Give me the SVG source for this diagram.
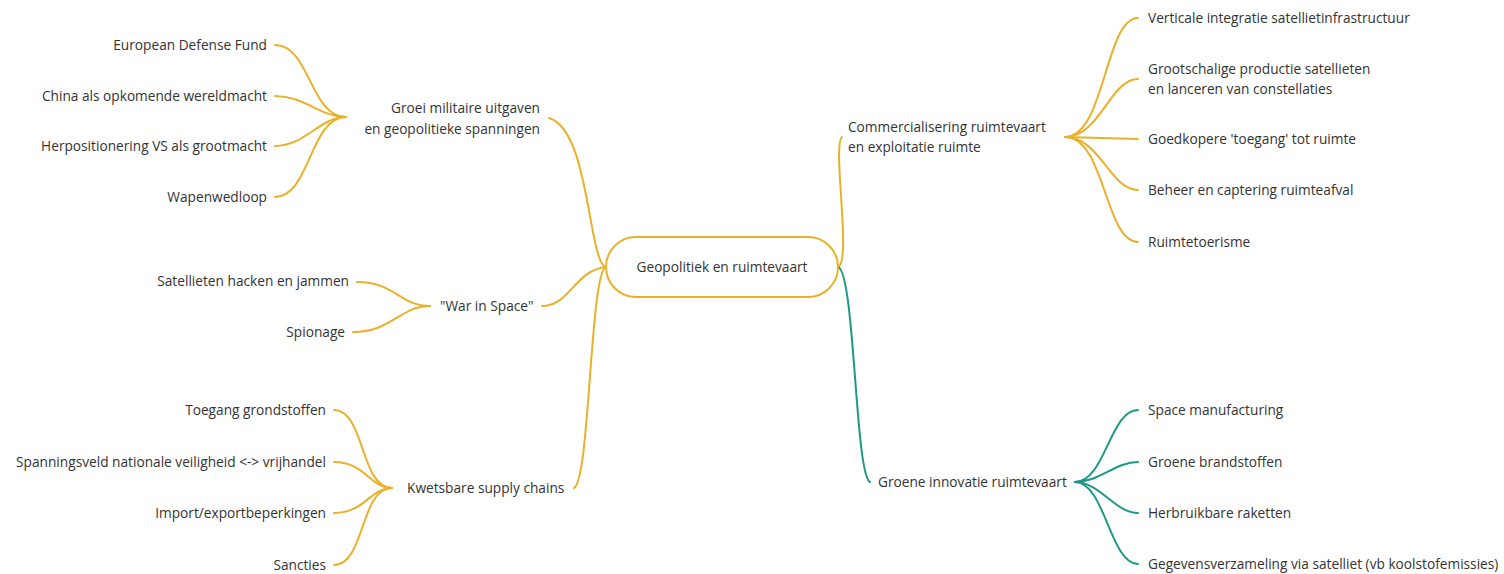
<svg xmlns="http://www.w3.org/2000/svg" width="1504" height="574" viewBox="0 0 1504 574">
<style>
text{font-family:"Open Sans","Noto Sans","Liberation Sans",sans-serif;font-size:13.7px;fill:#333}
.e{text-anchor:end}
.m{text-anchor:middle}
.y{fill:none;stroke:#E9B12A;stroke-width:2;stroke-linecap:round}
.g{fill:none;stroke:#1E9986;stroke-width:2;stroke-linecap:round}
</style>
<rect width="1504" height="574" fill="#fff"/>
<g id="connectors">
<path class="y" d="M606 267 C588 262 590 130 549 118"/>
<path class="y" d="M606 267 C575 270 570 306 542 306"/>
<path class="y" d="M606 267 C590 272 590 480 574 488"/>
<path class="y" d="M838 267 C852 262 832 145 842 137"/>
<path class="g" d="M838 267 C855 272 855 475 870 482"/>
<path class="y" d="M275 45 C310 45 310 117 346 117"/>
<path class="y" d="M275 96 C305 96 320 117 346 117"/>
<path class="y" d="M275 146 C305 146 320 117 346 117"/>
<path class="y" d="M275 197 C310 197 310 117 346 117"/>
<path class="y" d="M357 282 C395 282 400 306 430 306"/>
<path class="y" d="M353 332 C392 332 400 306 430 306"/>
<path class="y" d="M334 410 C365 410 360 488 392 488"/>
<path class="y" d="M334 462 C365 462 370 488 392 488"/>
<path class="y" d="M334 513 C365 513 370 488 392 488"/>
<path class="y" d="M334 565 C365 565 360 488 392 488"/>
<path class="y" d="M1065 137 C1105 137 1105 18 1138 18"/>
<path class="y" d="M1065 137 C1100 137 1110 79 1138 79"/>
<path class="y" d="M1065 137 L1138 139"/>
<path class="y" d="M1065 137 C1100 137 1110 190 1138 190"/>
<path class="y" d="M1065 137 C1105 137 1105 242 1138 242"/>
<path class="g" d="M1075 482 C1105 482 1110 410 1138 410"/>
<path class="g" d="M1075 482 C1100 482 1115 462 1138 462"/>
<path class="g" d="M1075 482 C1100 482 1115 513 1138 513"/>
<path class="g" d="M1075 482 C1105 482 1110 564 1138 564"/>
</g>
<g id="center">
<rect x="606" y="237" width="232" height="60" rx="30" fill="#fff" stroke="#E9B12A" stroke-width="2"/>
<text class="m" x="722" y="272">Geopolitiek en ruimtevaart</text>
</g>
<g id="groei">
<text class="e" x="540" y="113">Groei militaire uitgaven</text>
<text class="e" x="540" y="134">en geopolitieke spanningen</text>
</g>
<g id="edf"><text class="e" x="267" y="50">European Defense Fund</text></g>
<g id="china"><text class="e" x="267" y="101">China als opkomende wereldmacht</text></g>
<g id="vs"><text class="e" x="267" y="151">Herpositionering VS als grootmacht</text></g>
<g id="wapen"><text class="e" x="267" y="202">Wapenwedloop</text></g>
<g id="war"><text x="440" y="311">"War in Space"</text></g>
<g id="hack"><text class="e" x="349" y="286">Satellieten hacken en jammen</text></g>
<g id="spion"><text class="e" x="345" y="337">Spionage</text></g>
<g id="kwets"><text x="407" y="493">Kwetsbare supply chains</text></g>
<g id="toegang"><text class="e" x="326" y="415">Toegang grondstoffen</text></g>
<g id="spanning"><text class="e" x="326" y="467">Spanningsveld nationale veiligheid &lt;-&gt; vrijhandel</text></g>
<g id="import"><text class="e" x="326" y="518">Import/exportbeperkingen</text></g>
<g id="sancties"><text class="e" x="326" y="570">Sancties</text></g>
<g id="commerc">
<text x="848" y="132">Commercialisering ruimtevaart</text>
<text x="848" y="152">en exploitatie ruimte</text>
</g>
<g id="vert"><text x="1148" y="23">Verticale integratie satellietinfrastructuur</text></g>
<g id="groot">
<text x="1148" y="74">Grootschalige productie satellieten</text>
<text x="1148" y="94">en lanceren van constellaties</text>
</g>
<g id="goedk"><text x="1148" y="144">Goedkopere 'toegang' tot ruimte</text></g>
<g id="beheer"><text x="1148" y="195">Beheer en captering ruimteafval</text></g>
<g id="toer"><text x="1148" y="247">Ruimtetoerisme</text></g>
<g id="groene"><text x="878" y="487">Groene innovatie ruimtevaart</text></g>
<g id="spacem"><text x="1148" y="415">Space manufacturing</text></g>
<g id="brand"><text x="1148" y="467">Groene brandstoffen</text></g>
<g id="herbr"><text x="1148" y="518">Herbruikbare raketten</text></g>
<g id="gegev"><text x="1148" y="569">Gegevensverzameling via satelliet (vb koolstofemissies)</text></g>
</svg>
